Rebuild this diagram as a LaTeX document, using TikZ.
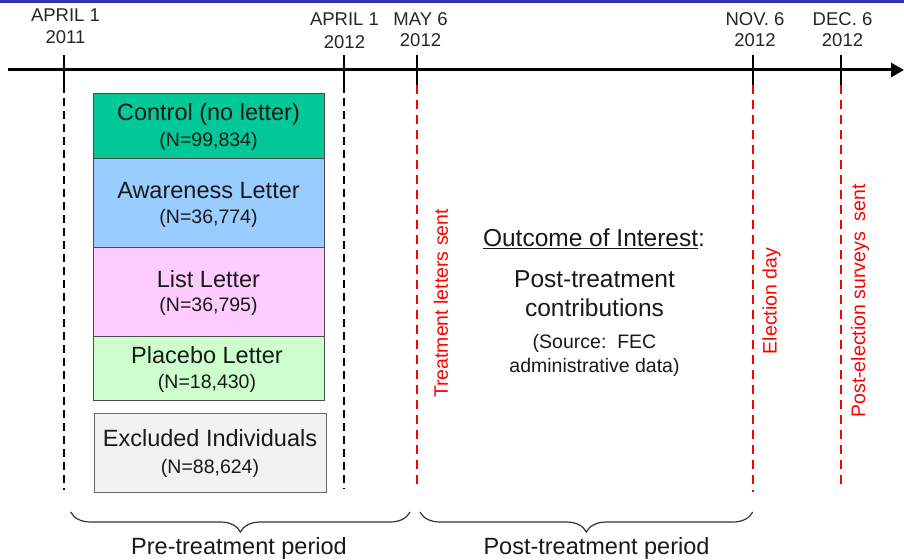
\documentclass[tikz,border=0pt]{standalone}
\usepackage{fontspec}
\setmainfont{Liberation Sans}
\usetikzlibrary{arrows.meta,decorations.pathreplacing}
\definecolor{topbar}{RGB}{51,51,175}
\definecolor{ctlgreen}{RGB}{0,200,150}
\definecolor{awblue}{RGB}{153,204,255}
\definecolor{listpink}{RGB}{255,204,255}
\definecolor{plgreen}{RGB}{204,255,204}
\definecolor{exgray}{RGB}{242,242,242}
\definecolor{lred}{RGB}{255,0,0}
\begin{document}
\begin{tikzpicture}[x=1pt,y=-1pt,
  datelbl/.style={font=\fontsize{18.5}{20}\selectfont, anchor=base, inner sep=0pt, text=black!85},
  grp/.style={draw=black!70, line width=0.9pt, anchor=north west, inner sep=0pt},
  bigtxt/.style={font=\fontsize{23.5}{26}\selectfont, anchor=base, inner sep=0pt, text=black!90},
  ntxt/.style={font=\fontsize{19.5}{22}\selectfont, anchor=base, inner sep=0pt, text=black!90},
  midtxt/.style={font=\fontsize{24.5}{27}\selectfont, anchor=base, inner sep=0pt, text=black!90},
  tickln/.style={line width=1.5pt, draw=black},
  blkdash/.style={line width=1.3pt, draw=black, dash pattern=on 8pt off 5pt},
  reddash/.style={draw=lred, line width=1.8pt, dash pattern=on 9pt off 6pt},
  redlbl/.style={text=lred, rotate=90, font=\fontsize{19.5}{22}\selectfont, inner sep=0pt},
  brc/.style={decorate, decoration={brace, mirror, amplitude=20pt}, line width=1.2pt, draw=black!80},
  brclbl/.style={font=\fontsize{23.5}{26}\selectfont, anchor=base, inner sep=0pt, text=black!90}
]
\useasboundingbox (0,0) rectangle (904,559);
\fill[white] (0,0) rectangle (904,559);
\fill[topbar] (0,0) rectangle (904,3.3);

% timeline
\coordinate (axL) at (8,70);
\coordinate (axR) at (904,70);
\draw[line width=3pt, -{Triangle[length=13pt,width=14pt]}] (axL) -- (axR);

% date coordinates
\foreach \n/\x/\b in {a/64/490, b/344/489, c/417/487, d/753/492, e/841/489}{
  \coordinate (\n top) at (\x,55);
  \coordinate (\n mid) at (\x,85);
  \coordinate (\n bot) at (\x,\b);
}
\draw[tickln] (atop) -- (amid);
\draw[tickln] (btop) -- (bmid);
\draw[tickln] (ctop) -- (cmid);
\draw[tickln] (dtop) -- (dmid);
\draw[tickln] (etop) -- (emid);
\draw[blkdash] (amid) -- (abot);
\draw[blkdash] (bmid) -- (bbot);
\draw[reddash] (cmid) -- (cbot);
\draw[reddash] (dmid) -- (dbot);
\draw[reddash] (emid) -- (ebot);

% date labels
\node[datelbl] (la1) at (65.5,22) {APRIL 1};
\node[datelbl] (la2) at (65.5,44) {2011};
\node[datelbl] (lb1) at (344.5,25.5) {APRIL 1};
\node[datelbl] (lb2) at (344.5,49) {2012};
\node[datelbl] (lc1) at (420.5,25.5) {MAY 6};
\node[datelbl] (lc2) at (420.5,46.5) {2012};
\node[datelbl] (ld1) at (755,25.5) {NOV. 6};
\node[datelbl] (ld2) at (755,46.5) {2012};
\node[datelbl] (le1) at (842.5,25.5) {DEC. 6};
\node[datelbl] (le2) at (842.5,46.5) {2012};

% group boxes
\node[grp, fill=ctlgreen, minimum width=231pt, minimum height=65pt] (ctl) at (93,93.3) {};
\node[grp, fill=awblue, minimum width=231pt, minimum height=88.4pt] (aw) at (93,158.3) {};
\node[grp, fill=listpink, minimum width=231pt, minimum height=89.3pt] (lst) at (93,246.7) {};
\node[grp, fill=plgreen, minimum width=231pt, minimum height=64pt] (pl) at (93,336) {};
\node[grp, fill=exgray, draw=black!60, minimum width=232pt, minimum height=79pt] (ex) at (94,413.3) {};

\node[bigtxt] (ctlT) at (208.5,120.7) {Control (no letter)};
\node[ntxt]   (ctlN) at (208.5,146.7) {(N=99,834)};
\node[bigtxt] (awT)  at (208.5,198.3) {Awareness Letter};
\node[ntxt]   (awN)  at (208.5,223.3) {(N=36,774)};
\node[bigtxt] (lstT) at (208.5,287.3) {List Letter};
\node[ntxt]   (lstN) at (208.5,311) {(N=36,795)};
\node[bigtxt] (plT)  at (207,363.3) {Placebo Letter};
\node[ntxt]   (plN)  at (207,388.3) {(N=18,430)};
\node[bigtxt] (exT)  at (210,446.7) {Excluded Individuals};
\node[ntxt]   (exN)  at (210,473.3) {(N=88,624)};

% rotated red labels
\node[redlbl] (rl1) at (441,303.5) {Treatment letters sent};
\node[redlbl] (rl2) at (771.5,301) {Election day};
\node[redlbl] (rl3) at (860,301) {Post-election surveys\ \ sent};

% outcome text
\node[midtxt] (oc1) at (594,246.7) {\underline{Outcome of Interest}:};
\node[midtxt] (oc2) at (594.5,287.3) {Post-treatment};
\node[midtxt] (oc3) at (594.5,316.7) {contributions};
\node[ntxt]   (oc4) at (594.5,348.3) {(Source:\ \ FEC};
\node[ntxt]   (oc5) at (594.5,372.7) {administrative data)};

% braces
\coordinate (pb1) at (70.7,512);
\coordinate (pb2) at (410,512);
\coordinate (qb1) at (420,512);
\coordinate (qb2) at (752.7,512);
\draw[brc] (pb1) -- (pb2);
\draw[brc] (qb1) -- (qb2);
\node[brclbl] (preL)  at (239,554) {Pre-treatment period};
\node[brclbl] (postL) at (596.5,554) {Post-treatment period};
\end{tikzpicture}
\end{document}
